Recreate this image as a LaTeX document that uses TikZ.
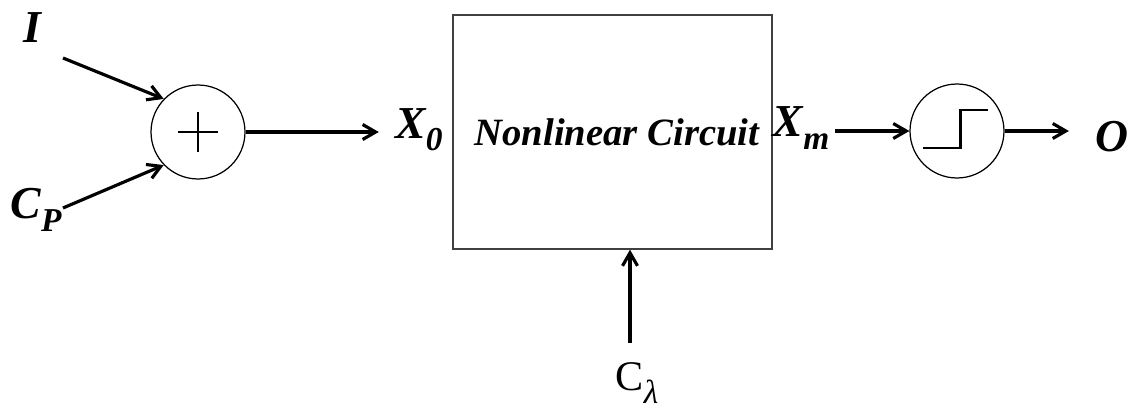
\documentclass[tikz,border=0pt]{standalone}
\usepackage{fontspec}
\setmainfont{Liberation Serif}
\usetikzlibrary{arrows.meta}

% lowered subscript in the label font
\newcommand\lsub[1]{\raisebox{-0.27em}{\fontsize{19}{20}\selectfont #1}}

\begin{document}
\begin{tikzpicture}[x=0.02cm, y=-0.02cm, >={Straight Barb[length=2.6mm, width=3mm]},
	lbl/.style={font=\fontsize{26}{28}\selectfont\bfseries\itshape, inner sep=3pt},
	ring/.style={draw, circle, minimum size=1.88cm, inner sep=0pt, line width=0.7pt},
	sig/.style={->, line width=1.8pt}]
	
	\useasboundingbox (0,0) rectangle (1136,412);
	
	% ================= summing junction =================
	\node[ring] (sum) at (198,132) {};
	\draw[line width=1.5pt] (sum.center) ++(-20,0) -- ++(40,0);
	\draw[line width=1.5pt] (sum.center) ++(0,-20) -- ++(0,40);
	
	\node[lbl] (inI) at (32,28) {I};
	\node[lbl] (inCP) at (36,210) {C\lsub{P}};
	\coordinate (iStart) at (63,58);
	\coordinate (cpStart) at (63,208);
	\draw[sig] (iStart) -- (sum.136);
	\draw[sig] (cpStart) -- (sum.224);
	
	% ================= nonlinear circuit =================
	\node[lbl] (x0) at (419,130) {X\lsub{0}};
	\draw[sig, shorten >=0.22cm] (sum) -- (sum -| x0.west);
	
	\node[draw=black!75, line width=0.8pt, minimum width=6.38cm, minimum height=4.68cm,
	font=\fontsize{22}{26}\selectfont\bfseries\itshape] (circ) at (612.5,132) {\hspace*{0.18cm}Nonlinear Circuit};
	
	\node[font=\fontsize{24}{26}\selectfont] (clam) at (637,383) {C\raisebox{-0.32em}{\fontsize{19}{20}\selectfont\itshape λ}};
	\coordinate (clamTop) at (630,343);
	\draw[sig] (clamTop) -- (clamTop |- circ.south);
	
	% ================= threshold =================
	\node[lbl] (xm) at (801,128) {X\lsub{m}};
	\node[ring] (step) at (957,131) {};
	\draw[line width=1.7pt] (step.center) ++(-34,17) -- ++(37,0) -- ++(0,-38) -- ++(28,0);
	\draw[sig] (xm.east |- step) -- (step);
	
	\node[lbl] (out) at (1112,137) {O};
	\draw[sig, shorten >=0.42cm] (step) -- (step -| out.west);
	
\end{tikzpicture}
\end{document}
